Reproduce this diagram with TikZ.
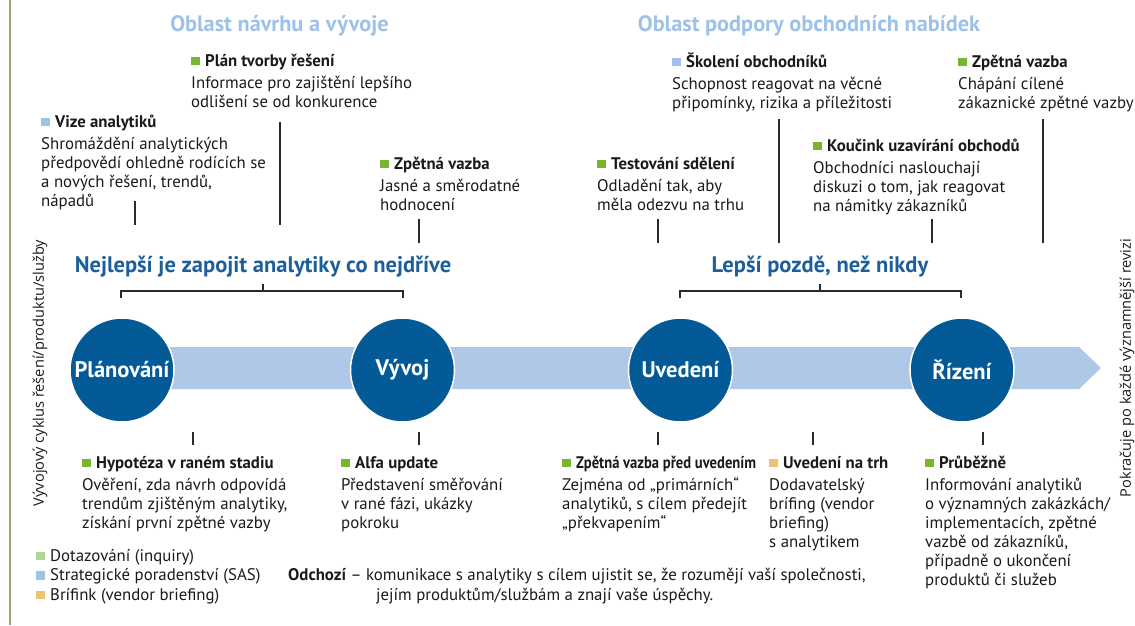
\documentclass[tikz,border=0pt]{standalone}
\usepackage{graphicx}
\usepackage{fontspec}
\setmainfont{PT Sans}
\newfontfamily\sidefont{Open Sans}

\definecolor{goldline}{HTML}{A99C70}
\definecolor{titleblue}{HTML}{9DC1E7}
\definecolor{headblue}{HTML}{1D5F9B}
\definecolor{circblue}{HTML}{035A96}
\definecolor{bandblue}{HTML}{B0C8E8}
\definecolor{bgreen}{HTML}{78B72B}
\definecolor{lblue}{HTML}{9EC2E8}
\definecolor{goldsq}{HTML}{EDC474}
\definecolor{lgreen}{HTML}{B2D597}
\definecolor{inkcol}{HTML}{1A1A1A}
\definecolor{tickcol}{HTML}{2B2B2B}

% coloured square bullet in front of a heading
\newcommand\sqb[1]{\raisebox{1pt}{\textcolor{#1}{\rule{8.5pt}{8.5pt}}}\hspace{5.5pt}}
% fixed top strut so that every block hangs from the same height
\newcommand\topstrut{\rule{0pt}{15pt}}

\begin{document}
\begin{tikzpicture}[x=1pt,y=-1pt,
  txt/.style={inner sep=0pt, text=inkcol, font=\fontsize{16.8}{19}\selectfont},
  item/.style={txt, anchor=north west, align=left},
  legend/.style={txt, anchor=base west},
  area/.style={inner sep=0pt, anchor=base, text=titleblue, font=\fontsize{22.3}{24}\selectfont\bfseries},
  motto/.style={inner sep=0pt, anchor=base, text=headblue, font=\fontsize{22.5}{24}\selectfont\bfseries},
  phase/.style={circle, fill=circblue, draw=white, line width=1.5pt, minimum size=104pt,
    inner sep=0pt, text=white, font=\fontsize{22.5}{24}\selectfont\bfseries},
  side/.style={inner sep=0pt, rotate=90, text=inkcol, font=\sidefont\fontsize{14.6}{16}\selectfont},
  tick/.style={draw=tickcol, line width=1.4pt},
  brk/.style={draw=tickcol, line width=1.4pt}]

\useasboundingbox (0,0) rectangle (1135,625);

% left margin rule
\coordinate (gt) at (10,0);
\coordinate (gb) at (10,625);
\draw[goldline, line width=2.5pt] (gt) -- (gb);

% area titles
\node[area] (areaL) at (279.5,31.5) {Oblast návrhu a vývoje};
\node[area] (areaR) at (809,31.5) {Oblast podpory obchodních nabídek};

% timeline band with arrow tip
\coordinate (tip) at (1101,368);
\fill[bandblue] (122,347) -- (1079,347) -- (tip) -- (1079,389) -- (122,389) -- cycle;

% phases
\node[phase] (plan) at (122,370) {Plánování};
\node[phase] (dev)  at (402.5,370) {Vývoj};
\node[phase] (launch) at (680.5,370) {Uvedení};
\node[phase] (mgmt) at (962,370) {Řízení};

% mottos and their brackets
\node[motto] (mL) at (263,272) {Nejlepší je zapojit analytiky co nejdříve};
\node[motto] (mR) at (820,272) {Lepší pozdě, než nikdy};

\coordinate (bL1) at (121,298); \coordinate (bL2) at (121,291);
\coordinate (bL3) at (403,291); \coordinate (bL4) at (403,298);
\coordinate (bLc) at (263,291); \coordinate (bLt) at (263,284);
\draw[brk] (bL1) -- (bL2) -- (bL3) -- (bL4);
\draw[brk] (bLc) -- (bLt);

\coordinate (bR1) at (680,298); \coordinate (bR2) at (680,291);
\coordinate (bR3) at (961,291); \coordinate (bR4) at (961,298);
\coordinate (bRc) at (820,291); \coordinate (bRt) at (820,284);
\draw[brk] (bR1) -- (bR2) -- (bR3) -- (bR4);
\draw[brk] (bRc) -- (bRt);

% upper activities
\node[item] (tA) at (191,51) {\topstrut\sqb{bgreen}\textbf{Plán tvorby řešení}\\[3pt]
  Informace pro zajištění lepšího\\ odlišení se od konkurence};
\node[item] (tB) at (41,112) {\topstrut\sqb{lblue}\textbf{Vize analytiků}\\[3pt]
  Shromáždění analytických\\ předpovědí ohledně rodících se\\ a nových řešení, trendů,\\ nápadů};
\node[item] (tC) at (380,154) {\topstrut\sqb{bgreen}\textbf{Zpětná vazba}\\[3pt]
  Jasné a směrodatné\\ hodnocení};
\node[item] (tD) at (597,154) {\topstrut\sqb{bgreen}\textbf{Testování sdělení}\\[3pt]
  Odladění tak, aby\\ měla odezvu na trhu};
\node[item] (tE) at (672,52) {\topstrut\sqb{lblue}\textbf{Školení obchodníků}\\[3pt]
  Schopnost reagovat na věcné\\ připomínky, rizika a příležitosti};
\node[item] (tF) at (813,136) {\topstrut\sqb{bgreen}\textbf{Koučink uzavírání obchodů}\\[3pt]
  Obchodníci naslouchají\\ diskuzi o tom, jak reagovat\\ na námitky zákazníků};
\node[item] (tG) at (958,52) {\topstrut\sqb{bgreen}\textbf{Zpětná vazba}\\[3pt]
  Chápání cílené\\ zákaznické zpětné vazby};

% lower activities
\node[item] (bA) at (82,453) {\topstrut\sqb{bgreen}\textbf{Hypotéza v raném stadiu}\\[3pt]
  Ověření, zda návrh odpovídá\\ trendům zjištěným analytiky,\\ získání první zpětné vazby};
\node[item] (bB) at (341,453) {\topstrut\sqb{bgreen}\textbf{Alfa update}\\[3pt]
  Představení směřování\\ v rané fázi, ukázky\\ pokroku};
\node[item] (bC) at (562,453) {\topstrut\sqb{bgreen}\scalebox{0.87}[1]{\textbf{Zpětná vazba před uvedením}}\\[3pt]
  Zejména od „primárních“\\ analytiků, s cílem předejít\\ „překvapením“};
\node[item] (bD) at (769,453) {\topstrut\sqb{goldsq}\textbf{Uvedení na trh}\\[3pt]
  Dodavatelský\\ brífing (vendor\\ briefing)\\ s analytikem};
\node[item] (bE) at (925,453) {\topstrut\sqb{bgreen}\textbf{Průběžně}\\[3pt]
  Informování analytiků\\ o významných zakázkách/\\ implementacích, zpětné\\ vazbě od zákazníků,\\ případně o ukončení\\ produktů či služeb};

% leader ticks, upper row
\foreach \nm/\x/\ya/\yb in {uA/135/201/225, uB/280/122/225, uC/419/219/243, uD/658/219/243,
                            uE/779/119/243, uF/932/219/243, uG/1043/119/243}{
  \coordinate (\nm-1) at (\x,\ya);
  \coordinate (\nm-2) at (\x,\yb);
  \draw[tick] (\nm-1) -- (\nm-2);
}
% leader ticks, lower row
\foreach \nm/\x in {lA/193, lB/419, lC/658, lD/813, lE/983}{
  \coordinate (\nm-1) at (\x,432);
  \coordinate (\nm-2) at (\x,445);
  \draw[tick] (\nm-1) -- (\nm-2);
}

% legend
\node[legend] (lg1) at (36,561) {\sqb{lgreen}Dotazování (inquiry)};
\node[legend] (lg2) at (36,580.5) {\sqb{lblue}Strategické poradenství (SAS)};
\node[legend] (lg3) at (36,600) {\sqb{goldsq}Brífink (vendor briefing)};

% outgoing note
\node[legend] (out1) at (288,580.5) {\textbf{Odchozí} – komunikace s analytiky s cílem ujistit se, že rozumějí vaší společnosti,};
\node[legend] (out2) at (376,600) {jejím produktům/službám a znají vaše úspěchy.};

% side captions
\node[side] (sideL) at (40,373) {Vývojový cyklus řešení/produktu/služby};
\node[side] (sideR) at (1127,368) {Pokračuje po každé významnější revizi};

\end{tikzpicture}
\end{document}
